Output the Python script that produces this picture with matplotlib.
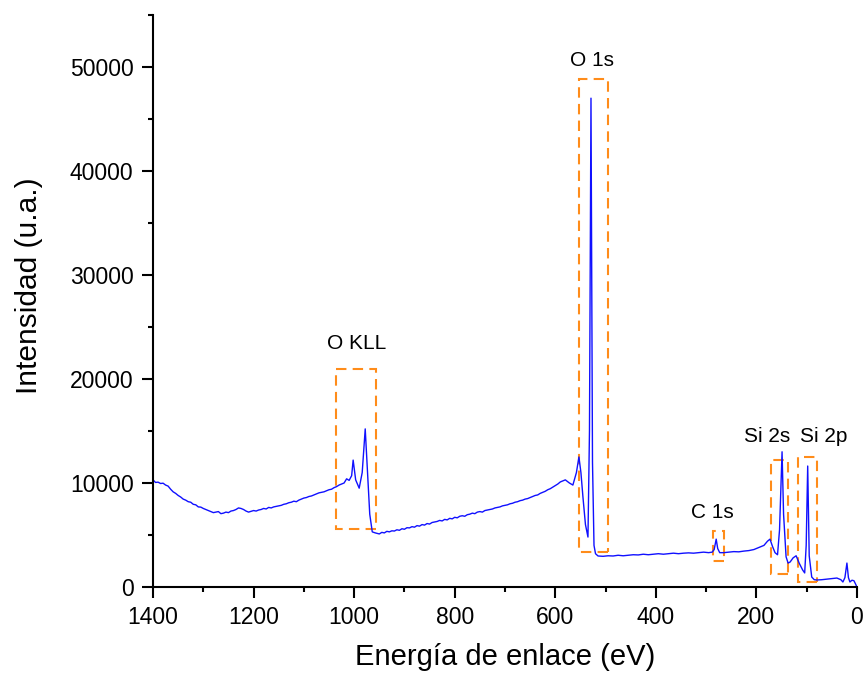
import matplotlib
matplotlib.use("Agg")
import matplotlib.pyplot as plt
from matplotlib.patches import Rectangle
from matplotlib.ticker import MultipleLocator

plt.rcParams['font.family'] = ['Liberation Sans', 'DejaVu Sans']

# XPS survey spectrum (binding energy in eV, intensity in a.u.)
energia = [1400, 1395, 1390, 1385, 1380, 1375, 1370, 1365, 1360, 1355,
           1350, 1345, 1340, 1335, 1330, 1325, 1320, 1315, 1310, 1305,
           1300, 1295, 1290, 1285, 1280, 1275, 1270, 1265, 1260, 1255,
           1250, 1245, 1240, 1235, 1230, 1225, 1220, 1215, 1210, 1205,
           1200, 1195, 1190, 1185, 1180, 1175, 1170, 1165, 1160, 1155,
           1150, 1145, 1140, 1135, 1130, 1125, 1120, 1115, 1110, 1105,
           1100, 1095, 1090, 1085, 1080, 1075, 1070, 1065, 1060, 1055,
           1050, 1045, 1040, 1035, 1030, 1025, 1020, 1015,
           1010, 1005, 1002, 997, 990, 984, 978, 974, 969, 964,
           958, 950, 945, 940, 935, 930, 925, 920, 915, 910, 905, 900,
           895, 890, 885, 880, 875, 870, 865, 860, 855, 850, 845, 840,
           835, 830, 825, 820, 815, 810, 805, 800, 795, 790, 785, 780,
           775, 770, 765, 760, 755, 750, 745, 740, 735, 730, 725, 720,
           715, 710, 705, 700, 695, 690, 685, 680, 675, 670, 665, 660,
           655, 650, 645, 640, 635, 630, 625, 620, 615, 610, 605, 600,
           595, 590, 585, 580, 572,
           565, 558, 553, 549, 545, 540, 535, 532, 529, 526,
           523, 520, 515, 505, 495, 485, 475, 465, 455, 445,
           435, 425, 415, 405, 395, 385, 375, 365, 355, 345,
           335, 325, 315, 305, 295, 288, 284, 280, 277, 273,
           265, 255, 245, 235, 225, 215, 205, 195, 185, 178,
           173, 168, 163, 158, 154, 149, 146, 141, 137, 133,
           127, 121, 115, 108, 104, 101, 98, 95, 90, 85,
           80, 70, 60, 50, 40, 32, 28, 24, 20, 17,
           14, 10, 6, 3, 0]
intensidad = [10300, 10050, 10080, 9950, 9980, 9800, 9700, 9400, 9150, 9000,
              8800, 8650, 8450, 8350, 8200, 8150, 7950, 7900, 7700, 7680,
              7550, 7450, 7350, 7250, 7150, 7200, 7250, 7050, 7100, 7200,
              7150, 7300, 7350, 7450, 7600, 7550, 7450, 7300, 7200, 7280,
              7350, 7300, 7400, 7450, 7550, 7500, 7650, 7600, 7700, 7750,
              7800, 7850, 7950, 8000, 8100, 8150, 8250, 8200, 8350, 8450,
              8550, 8600, 8700, 8750, 8850, 8950, 9050, 9100, 9150, 9250,
              9350, 9400, 9550, 9650, 9800, 9900, 10000, 10400,
              10250, 10700, 12200, 10300, 9500, 11000, 15200, 11500, 7000, 5300,
              5200, 5100, 5250, 5200, 5350, 5300, 5400, 5380, 5500, 5450, 5600, 5550,
              5700, 5680, 5800, 5750, 5900, 5850, 6000, 5950, 6100, 6050, 6200, 6250,
              6300, 6400, 6350, 6500, 6450, 6600, 6550, 6700, 6650, 6800, 6850, 6800,
              6950, 7000, 7100, 7050, 7200, 7250, 7200, 7350, 7400, 7450, 7500, 7600,
              7650, 7700, 7800, 7850, 7900, 8000, 8050, 8150, 8200, 8300, 8350, 8450,
              8500, 8600, 8700, 8800, 8850, 9000, 9100, 9200, 9350, 9450, 9600, 9750,
              9900, 10100, 10200, 10300, 10000,
              9800, 11000, 12500, 11000, 8650, 6000, 4800, 15000, 47000, 12000,
              4000, 3200, 2980, 2950, 3000, 2980, 3050, 3000, 3050, 3100,
              3080, 3150, 3100, 3150, 3200, 3150, 3200, 3250, 3200, 3250,
              3280, 3250, 3300, 3350, 3300, 3350, 3600, 4600, 3700, 3300,
              3300, 3350, 3400, 3380, 3450, 3500, 3600, 3800, 4000, 4400,
              4600, 3900, 3300, 3100, 5500, 13000, 7000, 2900, 2300, 2400,
              2800, 3000, 2300, 1630, 1350, 4000, 11630, 3000, 960, 700,
              670, 700, 750, 800, 860, 700, 480, 900, 2300, 900,
              480, 650, 600, 300, 0]

# peak regions: label, E_min, E_max, I_min, I_max, label position (E, I)
picos = ["O KLL", "O 1s", "C 1s", "Si 2s", "Si 2p"]
e_min = [957, 495, 265, 137, 79]
e_max = [1037, 553, 287, 170, 118]
i_min = [5600, 3400, 2500, 1250, 500]
i_max = [21000, 48800, 5400, 12200, 12500]
etiqueta_e = [996, 527, 287, 179, 66]
etiqueta_i = [23400, 50600, 7200, 14500, 14500]

fig = plt.figure(figsize=(8.68, 6.75), dpi=100)
ax = fig.add_axes([0.1763, 0.1304, 0.811, 0.8474])

ax.plot(energia, intensidad, color='#1010ff', lw=1.0)

naranja = '#ff8c1a'
for k in range(len(picos)):
    r = Rectangle((e_min[k], i_min[k]), e_max[k] - e_min[k], i_max[k] - i_min[k],
                  fill=False, edgecolor=naranja, lw=1.5, linestyle=(0, (5, 3)))
    ax.add_patch(r)
    ax.text(etiqueta_e[k], etiqueta_i[k], picos[k], ha='center', va='center', fontsize=15)

ax.set_xlim(1400, 0)
ax.set_ylim(0, 55000)
ax.xaxis.set_major_locator(MultipleLocator(200))
ax.xaxis.set_minor_locator(MultipleLocator(100))
ax.yaxis.set_major_locator(MultipleLocator(10000))
ax.yaxis.set_minor_locator(MultipleLocator(5000))

for s in ['top', 'right']:
    ax.spines[s].set_visible(False)
for s in ['left', 'bottom']:
    ax.spines[s].set_linewidth(1.5)

ax.tick_params(which='major', direction='out', length=8, width=1.5, labelsize=16.5, pad=6)
ax.tick_params(which='minor', direction='out', length=3.5, width=1.5)

ax.set_xlabel("Energía de enlace (eV)", fontsize=21, labelpad=10)
ax.set_ylabel("Intensidad (u.a.)", fontsize=21.5, labelpad=19)
ax.yaxis.label.set_y(0.526)

fig.savefig("out.png", dpi=100)
